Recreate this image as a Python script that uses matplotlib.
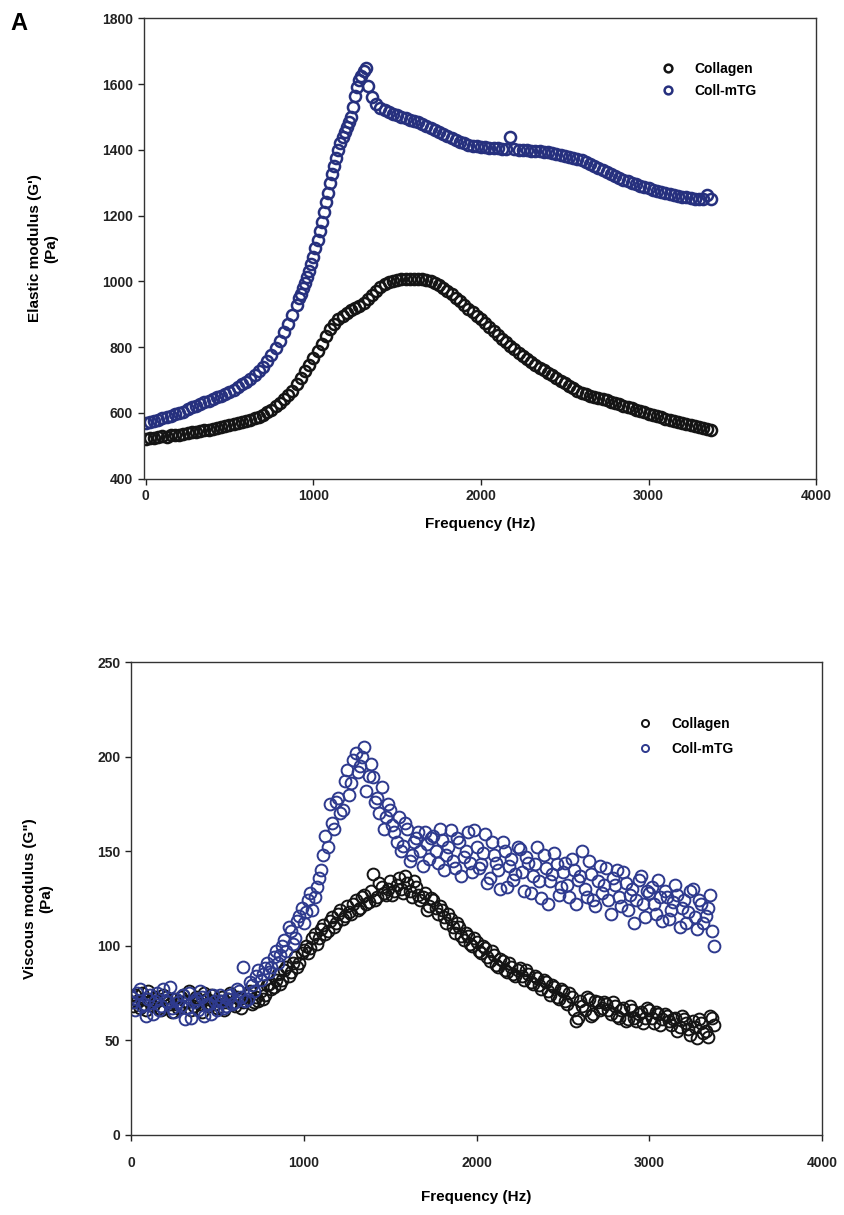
import numpy as np
import matplotlib
matplotlib.use("Agg")
import matplotlib.pyplot as plt

plt.rcParams['font.family'] = ['Liberation Sans', 'DejaVu Sans']
plt.rcParams['font.weight'] = 'bold'

## Donnees

# frequences de balayage (Hz)
freq = [0, 25, 50, 75, 100, 125, 150, 175, 200, 225,
        250, 275, 300, 325, 350, 375, 400, 425, 450, 475,
        500, 525, 550, 575, 600, 625, 650, 675, 700, 725,
        750, 775, 800, 825, 850, 875, 900, 925, 950, 975,
        1000, 1025, 1050, 1075, 1100, 1125, 1150, 1175, 1200, 1225,
        1250, 1275, 1300, 1325, 1350, 1375, 1400, 1425, 1450, 1475,
        1500, 1525, 1550, 1575, 1600, 1625, 1650, 1675, 1700, 1725,
        1750, 1775, 1800, 1825, 1850, 1875, 1900, 1925, 1950, 1975,
        2000, 2025, 2050, 2075, 2100, 2125, 2150, 2175, 2200, 2225,
        2250, 2275, 2300, 2325, 2350, 2375, 2400, 2425, 2450, 2475,
        2500, 2525, 2550, 2575, 2600, 2625, 2650, 2675, 2700, 2725,
        2750, 2775, 2800, 2825, 2850, 2875, 2900, 2925, 2950, 2975,
        3000, 3025, 3050, 3075, 3100, 3125, 3150, 3175, 3200, 3225,
        3250, 3275, 3300, 3325, 3350, 3375]

# points intermediaires (graphe du bas, nuage plus dense)
freq_mid = [12.5, 37.5, 62.5, 87.5, 112.5, 137.5, 162.5, 187.5, 212.5, 237.5,
            262.5, 287.5, 312.5, 337.5, 362.5, 387.5, 412.5, 437.5, 462.5, 487.5,
            512.5, 537.5, 562.5, 587.5, 612.5, 637.5, 662.5, 687.5, 712.5, 737.5,
            762.5, 787.5, 812.5, 837.5, 862.5, 887.5, 912.5, 937.5, 962.5, 987.5,
            1012.5, 1037.5, 1062.5, 1087.5, 1112.5, 1137.5, 1162.5, 1187.5, 1212.5, 1237.5,
            1262.5, 1287.5, 1312.5, 1337.5, 1362.5, 1387.5, 1412.5, 1437.5, 1462.5, 1487.5,
            1512.5, 1537.5, 1562.5, 1587.5, 1612.5, 1637.5, 1662.5, 1687.5, 1712.5, 1737.5,
            1762.5, 1787.5, 1812.5, 1837.5, 1862.5, 1887.5, 1912.5, 1937.5, 1962.5, 1987.5,
            2012.5, 2037.5, 2062.5, 2087.5, 2112.5, 2137.5, 2162.5, 2187.5, 2212.5, 2237.5,
            2262.5, 2287.5, 2312.5, 2337.5, 2362.5, 2387.5, 2412.5, 2437.5, 2462.5, 2487.5,
            2512.5, 2537.5, 2562.5, 2587.5, 2612.5, 2637.5, 2662.5, 2687.5, 2712.5, 2737.5,
            2762.5, 2787.5, 2812.5, 2837.5, 2862.5, 2887.5, 2912.5, 2937.5, 2962.5, 2987.5,
            3012.5, 3037.5, 3062.5, 3087.5, 3112.5, 3137.5, 3162.5, 3187.5, 3212.5, 3237.5,
            3262.5, 3287.5, 3312.5, 3337.5, 3362.5]

# module elastique G' (Pa)
g1_collagen = [522, 524, 523, 527, 529, 528, 532, 533, 534, 537,
               539, 541, 543, 545, 547, 549, 551, 553, 556, 559,
               562, 565, 568, 571, 575, 579, 584, 589, 595, 602,
               610, 620, 631, 643, 655, 668, 687, 706, 726, 746,
               767, 789, 811, 833, 854, 871, 885, 896, 905, 912,
               919, 926, 934, 946, 959, 972, 984, 992, 998, 1002,
               1005, 1006, 1007, 1008, 1008, 1007, 1006, 1004, 1000, 995,
               989, 981, 972, 961, 950, 939, 928, 917, 906, 895,
               885, 874, 862, 850, 838, 826, 815, 804, 793, 783,
               773, 764, 755, 746, 738, 730, 722, 714, 706, 698,
               690, 682, 675, 668, 662, 657, 652, 648, 645, 641,
               638, 634, 630, 626, 622, 618, 614, 610, 606, 602,
               598, 594, 590, 587, 583, 580, 576, 573, 569, 566,
               563, 560, 557, 554, 551, 548]

g1_mtg = [568, 571, 575, 579, 584, 588, 592, 596, 600, 604,
          612, 617, 622, 627, 632, 637, 642, 647, 652, 658,
          664, 671, 679, 687, 695, 704, 714, 726, 740, 757,
          776, 797, 820, 845, 871, 899, 929, 961, 995, 1033,
          1075, 1125, 1180, 1240, 1300, 1352, 1400, 1440, 1470, 1500,
          1565, 1612, 1640, 1595, 1560, 1540, 1528, 1520, 1514, 1510,
          1505, 1500, 1496, 1492, 1488, 1483, 1478, 1472, 1466, 1460,
          1454, 1448, 1442, 1436, 1430, 1425, 1420, 1416, 1413, 1411,
          1409, 1407, 1406, 1405, 1404, 1403, 1402, 1440, 1401, 1400,
          1399, 1398, 1397, 1396, 1395, 1394, 1392, 1390, 1387, 1384,
          1381, 1378, 1375, 1372, 1368, 1363, 1357, 1351, 1345, 1339,
          1333, 1327, 1321, 1315, 1309, 1304, 1299, 1295, 1291, 1287,
          1283, 1279, 1275, 1271, 1268, 1265, 1262, 1259, 1257, 1255,
          1253, 1251, 1250, 1249, 1262, 1250]

# points supplementaires dans la montee raide du Coll-mTG
freq_rise = [912, 937, 962, 987, 1012, 1037, 1062, 1087, 1112, 1137,
             1162, 1187, 1212, 1237, 1262, 1287, 1312]
g1_mtg_rise = [950, 980, 1014, 1054, 1100, 1152, 1210, 1270, 1326, 1376,
               1420, 1455, 1485, 1530, 1590, 1625, 1648]

# module visqueux G'' (Pa)
g2_collagen = [70, 74, 67, 72, 76, 68, 71, 66, 73, 69,
               72, 67, 74, 70, 66, 73, 69, 75, 68, 71,
               67, 73, 70, 75, 68, 72, 70, 74, 69, 73,
               76, 74, 80, 78, 85, 82, 89, 86, 94, 91,
               98, 96, 104, 101, 109, 106, 113, 110, 117, 114,
               121, 117, 124, 120, 127, 123, 138, 126, 131, 127,
               134, 129, 136, 128, 133, 126, 131, 124, 128, 121,
               124, 117, 119, 112, 114, 107, 110, 103, 105, 100,
               102, 96, 99, 92, 95, 89, 92, 86, 89, 84,
               88, 82, 85, 80, 83, 77, 81, 74, 78, 72,
               76, 69, 73, 60, 71, 66, 72, 64, 70, 67,
               69, 64, 68, 62, 67, 61, 66, 60, 65, 62,
               66, 59, 64, 61, 63, 58, 62, 57, 61, 56,
               60, 51, 59, 55, 63, 58]

g2_collagen_mid = [68, 71, 75, 66, 70, 73, 67, 74, 70, 65,
                   69, 73, 71, 76, 68, 70, 65, 72, 74, 69,
                   71, 66, 72, 69, 73, 67, 71, 76, 70, 71,
                   72, 79, 77, 82, 80, 87, 84, 91, 89, 96,
                   100, 99, 106, 104, 111, 108, 115, 112, 119, 116,
                   118, 122, 119, 126, 122, 129, 124, 133, 128, 130,
                   127, 132, 130, 137, 129, 134, 127, 126, 119, 125,
                   120, 121, 115, 117, 110, 112, 105, 107, 101, 104,
                   97, 100, 94, 97, 90, 93, 87, 91, 85, 87,
                   84, 87, 81, 84, 79, 82, 76, 79, 73, 77,
                   71, 75, 66, 62, 68, 73, 63, 71, 66, 70,
                   66, 70, 63, 66, 60, 68, 62, 64, 59, 67,
                   62, 65, 58, 64, 60, 61, 55, 63, 59, 53,
                   57, 61, 54, 52, 62]

g2_mtg = [73, 66, 77, 69, 72, 64, 75, 68, 71, 78,
          65, 70, 74, 67, 62, 72, 76, 63, 69, 74,
          66, 71, 68, 74, 70, 76, 89, 72, 79, 84,
          82, 88, 86, 94, 91, 100, 97, 108, 104, 116,
          112, 124, 119, 131, 140, 158, 175, 162, 178, 172,
          193, 186, 202, 195, 205, 190, 189, 178, 184, 168,
          172, 160, 168, 153, 162, 148, 157, 150, 160, 146,
          158, 144, 156, 148, 161, 141, 155, 147, 160, 139,
          152, 143, 159, 136, 148, 140, 155, 131, 146, 138,
          151, 129, 144, 137, 152, 125, 141, 134, 149, 127,
          139, 132, 146, 122, 137, 130, 145, 124, 134, 128,
          141, 117, 132, 126, 139, 119, 130, 124, 137, 115,
          128, 122, 135, 113, 126, 119, 132, 110, 124, 118,
          130, 109, 122, 116, 127, 100]

g2_mtg_mid = [70, 75, 68, 63, 74, 71, 66, 77, 70, 67,
              72, 68, 61, 75, 70, 66, 73, 69, 64, 71,
              74, 67, 72, 69, 77, 73, 71, 81, 76, 87,
              85, 91, 89, 97, 95, 103, 110, 101, 113, 120,
              118, 128, 126, 136, 148, 152, 165, 176, 170, 187,
              180, 198, 192, 200, 182, 196, 176, 170, 162, 175,
              164, 155, 150, 165, 145, 155, 160, 142, 154, 157,
              150, 162, 140, 152, 145, 157, 137, 150, 144, 161,
              141, 149, 133, 155, 144, 130, 150, 142, 135, 152,
              139, 147, 128, 143, 134, 148, 122, 138, 143, 131,
              144, 126, 140, 135, 150, 126, 138, 121, 142, 132,
              124, 136, 140, 121, 133, 127, 112, 135, 122, 129,
              131, 117, 126, 129, 114, 123, 127, 120, 112, 129,
              115, 124, 112, 120, 108]

noir = "#141414"
bleu_haut = "#26307e"
bleu_bas = "#2e3a8e"


def style_axes(ax):
    """Style des axes facon SigmaPlot"""
    for s in ax.spines.values():
        s.set_linewidth(1.0)
        s.set_color("#333333")
    ax.tick_params(direction='out', length=4, width=1, labelsize=10, colors="#222222")
    for lab in ax.get_xticklabels() + ax.get_yticklabels():
        lab.set_fontweight('bold')


fig = plt.figure(figsize=(8.45, 12.15), dpi=100)

## Graphe du haut : G'
ax1 = fig.add_axes([0.170, 0.606, 0.796, 0.379])
ax1.plot(freq, g1_collagen, 'o', ms=8, mfc='none', mec=noir, mew=1.8, label="Collagen")
ax1.plot(freq, g1_mtg, 'o', ms=8, mfc='none', mec=bleu_haut, mew=1.8, label="Coll-mTG")
ax1.plot(freq_rise, g1_mtg_rise, 'o', ms=8, mfc='none', mec=bleu_haut, mew=1.8)
ax1.set_xlim(-12, 4000)
ax1.set_ylim(400, 1800)
ax1.set_xticks([0, 1000, 2000, 3000, 4000])
ax1.set_yticks(range(400, 1801, 200))
style_axes(ax1)
ax1.set_xlabel("Frequency (Hz)", fontsize=11, fontweight='bold', labelpad=10)
ax1.set_ylabel("Elastic modulus (G')\n(Pa)", fontsize=11, fontweight='bold', labelpad=32)
ax1.legend(loc='upper left', bbox_to_anchor=(0.74, 0.932), frameon=False, fontsize=10,
           handletextpad=0.9, labelspacing=0.55, markerscale=0.7)

## Graphe du bas : G''
ax2 = fig.add_axes([0.155, 0.066, 0.818, 0.389])
ax2.plot(freq, g2_collagen, 'o', ms=8.5, mfc='none', mec=noir, mew=1.4, label="Collagen")
ax2.plot(freq_mid, g2_collagen_mid, 'o', ms=8.5, mfc='none', mec=noir, mew=1.4)
ax2.plot(freq, g2_mtg, 'o', ms=8.5, mfc='none', mec=bleu_bas, mew=1.4, label="Coll-mTG")
ax2.plot(freq_mid, g2_mtg_mid, 'o', ms=8.5, mfc='none', mec=bleu_bas, mew=1.4)
ax2.set_xlim(0, 4000)
ax2.set_ylim(0, 250)
ax2.set_xticks([0, 1000, 2000, 3000, 4000])
ax2.set_yticks(range(0, 251, 50))
style_axes(ax2)
ax2.tick_params(axis='x', pad=11)
ax2.set_xlabel("Frequency (Hz)", fontsize=11, fontweight='bold', labelpad=15)
ax2.set_ylabel("Viscous modulus (G\")\n(Pa)", fontsize=11, fontweight='bold', labelpad=32)
ax2.legend(loc='upper left', bbox_to_anchor=(0.705, 0.91), frameon=False, fontsize=10,
           handletextpad=0.9, labelspacing=0.75, markerscale=0.6)

fig.text(0.012, 0.975, "A", fontsize=17, fontweight='bold')

fig.savefig("out.png", dpi=100)
